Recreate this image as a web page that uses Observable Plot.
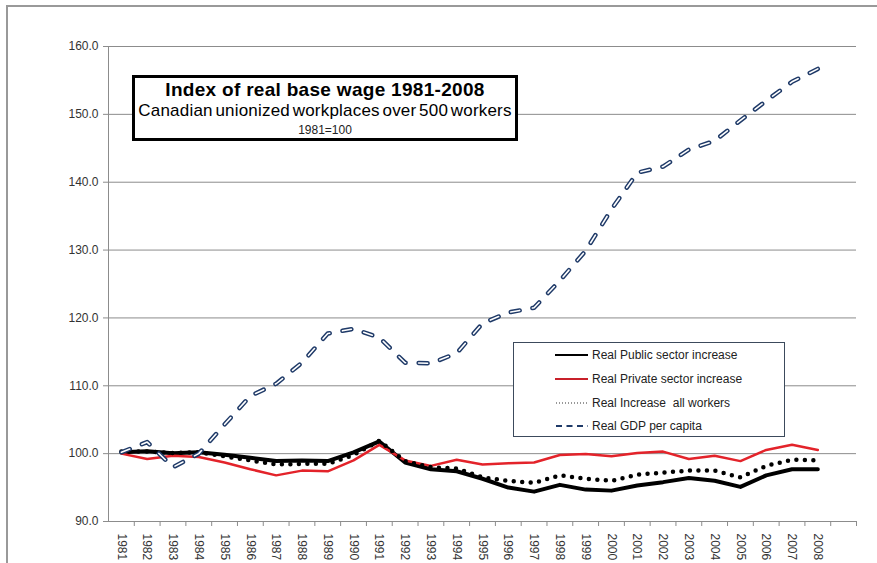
<!DOCTYPE html>
<html>
<head>
<meta charset="utf-8">
<script src="https://cdn.jsdelivr.net/npm/d3@7"></script>
<script src="https://cdn.jsdelivr.net/npm/@observablehq/plot@0.6"></script>
<style>
  html, body { margin: 0; padding: 0; background: #fff; }
  #wrap { position: relative; width: 877px; height: 563px; overflow: hidden; font-family: "Liberation Sans", Arial, sans-serif; }
  #frame { position: absolute; left: 6px; top: 5px; width: 900px; height: 600px; border-top: 2px solid #999; border-left: 2px solid #999; }
  #chart { position: absolute; left: 0; top: 0; }
  #title { position: absolute; left: 132px; top: 75px; width: 380px; height: 60px; border: 3px solid #000; background: #fff; text-align: center; color: #000; white-space: nowrap; }
  #title .t1 { font-weight: bold; font-size: 19px; letter-spacing: 0.3px; margin-top: 1px; line-height: 22px; }
  #title .t2 { font-size: 17px; line-height: 20px; word-spacing: -2.2px; letter-spacing: 0.2px; }
  #title .t3 { font-size: 12px; line-height: 18px; color: #222; }
  #legend { position: absolute; left: 513px; top: 342px; width: 270px; height: 93px; border: 1px solid #3c4a5c; background: #fff; }
  .row { position: absolute; left: 41px; height: 16px; font-size: 12px; color: #222; display: flex; align-items: center; }
  .row svg { margin-right: 3px; }
</style>
</head>
<body>
<div id="wrap">
  <div id="frame"></div>
  <div id="chart"></div>
  <div id="title">
    <div class="t1">Index of real base wage 1981-2008</div>
    <div class="t2">Canadian unionized workplaces over 500 workers</div>
    <div class="t3">1981=100</div>
  </div>
  <div id="legend"></div>
</div>
<script>
const years = [1981,1982,1983,1984,1985,1986,1987,1988,1989,1990,1991,1992,1993,1994,1995,1996,1997,1998,1999,2000,2001,2002,2003,2004,2005,2006,2007,2008];
const publicSector = [100.2,100.35,100.05,100.2,99.85,99.4,98.9,99.0,98.9,100.2,101.8,98.7,97.7,97.4,96.3,95.0,94.4,95.4,94.7,94.55,95.3,95.8,96.4,96.0,95.1,96.8,97.7,97.7];
const privateSector = [100.0,99.2,99.7,99.5,98.7,97.7,96.8,97.5,97.4,99.0,101.3,99.0,98.2,99.1,98.4,98.6,98.7,99.8,99.95,99.6,100.1,100.3,99.2,99.7,98.9,100.55,101.3,100.55];
const allWorkers = [100.3,100.3,100.1,100.2,99.6,99.0,98.4,98.5,98.5,99.8,101.9,98.9,98.0,97.8,96.5,96.0,95.7,96.8,96.3,96.0,96.9,97.2,97.5,97.5,96.5,98.2,99.1,99.0];
const gdpPerCapita = [100.2,101.7,98.0,100.0,104.3,108.5,110.3,113.4,117.7,118.4,117.1,113.4,113.3,114.8,119.2,120.8,121.5,125.5,129.9,136.0,141.4,142.3,144.8,146.1,149.1,152.0,154.8,156.7];
const yTicks = [90,100,110,120,130,140,150,160];
const seriesNames = ["Real Public sector increase","Real Private sector increase","Real Increase  all workers","Real GDP per capita"];

const toRows = vals => years.map((year, i) => ({year, value: vals[i]}));
const pub = toRows(publicSector), priv = toRows(privateSector), all = toRows(allWorkers), gdp = toRows(gdpPerCapita);
const firstYear = years[0], lastYear = years[years.length - 1];
const boundaries = years.map(y => y + 0.5).concat([lastYear + 1.5]);

const gridC = "#8c8c8c";
const chart = Plot.plot({
  width: 877, height: 563,
  marginLeft: 108, marginRight: 21, marginTop: 46, marginBottom: 42,
  style: {fontFamily: "'Liberation Sans', Arial, sans-serif", fontSize: "12px", color: "#333", background: "transparent"},
  x: {type: "linear", domain: [firstYear - 0.5, lastYear + 1.5]},
  y: {domain: [90, 160]},
  marks: [
    Plot.ruleY(yTicks.slice(1), {stroke: gridC, strokeWidth: 1}),
    Plot.ruleY([yTicks[0]], {stroke: gridC, strokeWidth: 1}),
    Plot.ruleX([firstYear - 0.5], {stroke: gridC, strokeWidth: 1}),
    Plot.axisY(yTicks, {tickSize: 5, tickPadding: 5, tickFormat: d => d.toFixed(1), stroke: gridC, fill: "#333", label: null}),
    Plot.axisX(boundaries, {tickSize: 5, tickFormat: () => "", stroke: gridC, label: null}),
    Plot.axisX(years, {tickSize: 0, tickPadding: 12, tickRotate: 90, tickFormat: d => String(d), fill: "#333", label: null}),
    Plot.line(pub, {x: "year", y: "value", stroke: "#000", strokeWidth: 4, strokeLinejoin: "round"}),
    Plot.line(priv, {x: "year", y: "value", stroke: "#e3232a", strokeWidth: 2.5, strokeLinejoin: "round"}),
    Plot.line(all, {x: "year", y: "value", stroke: "#000", strokeWidth: 4.5, strokeDasharray: "0 8.5", strokeLinecap: "round"}),
    Plot.line(gdp, {x: "year", y: "value", stroke: "#1f3a68", strokeWidth: 4.5, strokeDasharray: "9 13", strokeLinecap: "round", strokeLinejoin: "round"}),
    Plot.line(gdp, {x: "year", y: "value", stroke: "#fff", strokeWidth: 1.6, strokeDasharray: "9 13", strokeLinecap: "round", strokeLinejoin: "round"})
  ]
});
document.getElementById("chart").appendChild(chart);

const samples = [
  '<line x1="0" y1="5" x2="33" y2="5" stroke="#000" stroke-width="2"/>',
  '<line x1="0" y1="5" x2="33" y2="5" stroke="#c8202a" stroke-width="2"/>',
  '<line x1="1" y1="5" x2="33" y2="5" stroke="#333" stroke-width="1.2" stroke-dasharray="1 2"/>',
  '<line x1="1" y1="5" x2="33" y2="5" stroke="#1f3a68" stroke-width="1.8" stroke-dasharray="6 4.5"/>'
];
const legend = document.getElementById("legend");
const rowTops = [4, 28, 52, 75];
seriesNames.forEach((name, i) => {
  const r = document.createElement("div");
  r.className = "row";
  r.style.top = rowTops[i] + "px";
  r.innerHTML = '<svg width="34" height="10">' + samples[i] + '</svg><span>' + name.replace(/  /g, "&nbsp; ") + '</span>';
  legend.appendChild(r);
});
</script>
</body>
</html>
